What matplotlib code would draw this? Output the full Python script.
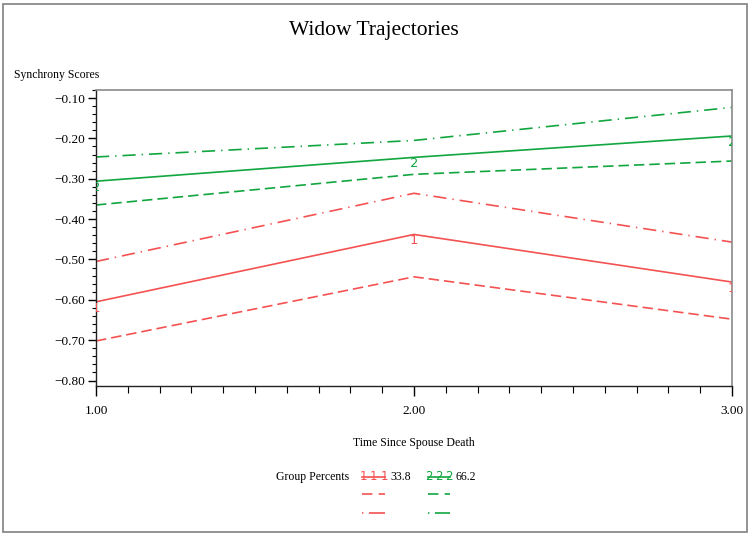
import matplotlib
matplotlib.use("Agg")
import matplotlib.pyplot as plt
from matplotlib.lines import Line2D
from matplotlib.patches import Rectangle
from matplotlib.ticker import MultipleLocator, FuncFormatter

plt.rcParams['font.family'] = ['Liberation Serif', 'DejaVu Serif']
plt.rcParams['lines.scale_dashes'] = False

# ---- data ----
time = [1.0, 2.0, 3.0]
g1_mean = [-0.605, -0.438, -0.556]
g1_upper = [-0.505, -0.336, -0.457]
g1_lower = [-0.702, -0.543, -0.648]
g2_mean = [-0.306, -0.247, -0.194]
g2_upper = [-0.246, -0.205, -0.123]
g2_lower = [-0.365, -0.289, -0.256]
y_ticks = [-0.8, -0.7, -0.6, -0.5, -0.4, -0.3, -0.2, -0.1]
x_ticks = [1.0, 2.0, 3.0]
group_labels = ['33.8', '66.2']
group_symbols = ['1', '2']

RED = '#F45252'
GREEN = '#12A63F'
DASHED = (0, (7.5, 3.6))
DASHDOT = (0, (9.5, 4.3, 1.0, 4.3))

W, H = 750, 535
fig = plt.figure(figsize=(W / 100, H / 100), dpi=100)

# outer border
fig.add_artist(Rectangle((2.5 / W, 3.5 / H), (746.5 - 2.5) / W, (531 - 3.5) / H,
                         transform=fig.transFigure, fill=False,
                         edgecolor='#8a8a8a', linewidth=1.3))

ax = fig.add_axes([96 / W, 1 - 386 / H, (732 - 96) / W, (386 - 90) / H])
ax.set_xlim(1.0, 3.0)
ax.set_ylim(-0.8136, -0.080)

series = [
    (g1_mean, g1_upper, g1_lower, RED, group_symbols[0]),
    (g2_mean, g2_upper, g2_lower, GREEN, group_symbols[1]),
]
for mean, up, lo, col, sym in series:
    ax.plot(time, mean, color=col, lw=1.2, linestyle='-')
    ax.plot(time, up, color=col, lw=1.2, linestyle=DASHDOT)
    ax.plot(time, lo, color=col, lw=1.2, linestyle=DASHED)
    for x, y in zip(time, mean):
        ax.text(x, y, sym, color=col, fontsize=9.5, ha='center', va='top',
                family='DejaVu Sans', clip_on=True)

fmt = FuncFormatter(lambda v, p: f'{v:.2f}'.replace('-', '\u2212'))
ax.set_yticks(y_ticks)
ax.set_xticks(x_ticks)
ax.yaxis.set_minor_locator(MultipleLocator(0.02))
ax.xaxis.set_minor_locator(MultipleLocator(0.1))
ax.yaxis.set_major_formatter(fmt)
ax.xaxis.set_major_formatter(fmt)

ax.tick_params(axis='y', which='major', length=6, width=1, labelsize=9.5, pad=2, direction='out')
ax.tick_params(axis='y', which='minor', length=3, width=0.8, direction='out')
ax.tick_params(axis='x', which='major', length=7, width=1, labelsize=9.5, pad=7, direction='out')
ax.tick_params(axis='x', which='minor', length=5, width=0.8, direction='out')

for s in ['left', 'bottom']:
    ax.spines[s].set_color('#222222')
    ax.spines[s].set_linewidth(1.0)
for s in ['top', 'right']:
    ax.spines[s].set_color('#8a8a8a')
    ax.spines[s].set_linewidth(1.2)

# texts
fig.text(374 / W, 1 - 30 / H, 'Widow Trajectories', ha='center', va='center', fontsize=15.5)
fig.text(14 / W, 1 - 75 / H, 'Synchrony Scores', ha='left', va='center', fontsize=8.5)
fig.text(414 / W, 1 - 443 / H, 'Time Since Spouse Death', ha='center', va='center', fontsize=8.5)
fig.text(276 / W, 1 - 477 / H, 'Group Percents', ha='left', va='center', fontsize=8.5)

# legend
leg_cols = [(362, 385, RED, group_symbols[0], group_labels[0]),
            (428, 450, GREEN, group_symbols[1], group_labels[1])]
rows = [477, 494, 513]
for x0, x1, col, sym, lab in leg_cols:
    fig.add_artist(Line2D([x0 / W, x1 / W], [1 - rows[0] / H] * 2, color=col, lw=1.2,
                          transform=fig.transFigure))
    for xm in [x0 + 1, (x0 + x1) / 2, x1 - 1]:
        fig.text(xm / W, 1 - rows[0] / H, sym, color=col, fontsize=8.5, ha='center',
                 va='center', family='DejaVu Sans')
    fig.add_artist(Line2D([x0 / W, x1 / W], [1 - rows[1] / H] * 2, color=col, lw=1.2,
                          linestyle=(0, (7.5, 4.5)), transform=fig.transFigure))
    fig.add_artist(Line2D([x0 / W, x1 / W], [1 - rows[2] / H] * 2, color=col, lw=1.2,
                          linestyle=(0, (1.0, 4.0, 12, 2)), transform=fig.transFigure))
    fig.text((x1 + 5) / W, 1 - rows[0] / H, lab, ha='left', va='center', fontsize=8.5)

fig.savefig('out.png', dpi=100)
